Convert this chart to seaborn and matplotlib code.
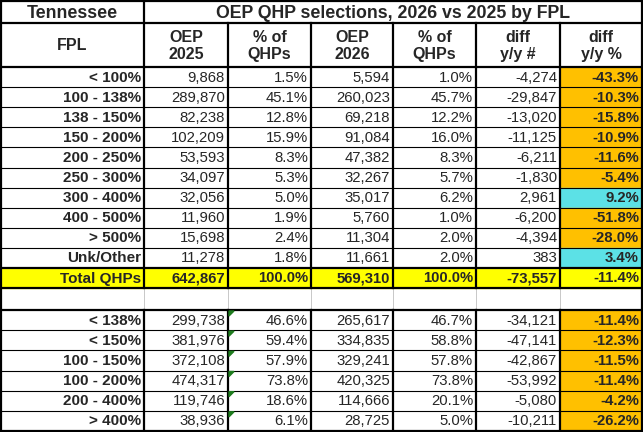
import matplotlib
matplotlib.use("Agg")
import matplotlib.pyplot as plt
import seaborn as sns
from matplotlib.patches import Rectangle, Polygon

sns.set_theme(style="white")
plt.rcParams['font.family'] = ['Liberation Sans', 'DejaVu Sans']

# ---------------- data ----------------
state = "Tennessee"
title = "OEP QHP selections, 2026 vs 2025 by FPL"
col_headers = ["FPL", "OEP\n2025", "% of\nQHPs", "OEP\n2026", "% of\nQHPs", "diff\ny/y #", "diff\ny/y %"]

fpl_top = ["< 100%", "100 - 138%", "138 - 150%", "150 - 200%", "200 - 250%",
           "250 - 300%", "300 - 400%", "400 - 500%", "> 500%", "Unk/Other"]
oep2025_top = [9868, 289870, 82238, 102209, 53593, 34097, 32056, 11960, 15698, 11278]
pct2025_top = [1.5, 45.1, 12.8, 15.9, 8.3, 5.3, 5.0, 1.9, 2.4, 1.8]
oep2026_top = [5594, 260023, 69218, 91084, 47382, 32267, 35017, 5760, 11304, 11661]
pct2026_top = [1.0, 45.7, 12.2, 16.0, 8.3, 5.7, 6.2, 1.0, 2.0, 2.0]
diff_top = [-4274, -29847, -13020, -11125, -6211, -1830, 2961, -6200, -4394, 383]
diffpct_top = [-43.3, -10.3, -15.8, -10.9, -11.6, -5.4, 9.2, -51.8, -28.0, 3.4]

total_label = "Total QHPs"
total_vals = [642867, 100.0, 569310, 100.0, -73557, -11.4]

fpl_bot = ["< 138%", "< 150%", "100 - 150%", "100 - 200%", "200 - 400%", "> 400%"]
oep2025_bot = [299738, 381976, 372108, 474317, 119746, 38936]
pct2025_bot = [46.6, 59.4, 57.9, 73.8, 18.6, 6.1]
oep2026_bot = [265617, 334835, 329241, 420325, 114666, 28725]
pct2026_bot = [46.7, 58.8, 57.8, 73.8, 20.1, 5.0]
diff_bot = [-34121, -47141, -42867, -53992, -5080, -10211]
diffpct_bot = [-11.4, -12.3, -11.5, -11.4, -4.2, -26.2]

ORANGE = "#FFC000"
CYAN = "#5CE1E6"
YELLOW = "#FFFF00"

# ---------------- layout ----------------
W, H = 643, 432
xs = [1, 144, 228, 311, 393, 476, 560, 642]
fig = plt.figure(figsize=(W / 100, H / 100), dpi=100)
ax = fig.add_axes([0, 0, 1, 1])
ax.set_xlim(0, W)
ax.set_ylim(H, 0)
ax.axis("off")

THICK = 1.6
THIN = 0.8
FS = 10.7


def fmt_int(v):
    return f"{v:,}"


def fmt_pct(v):
    return f"{v:.1f}%"


def hline(y, x0, x1, lw, color="black"):
    ax.plot([x0, x1], [y, y], color=color, lw=lw, solid_capstyle="projecting", zorder=3)


def vline(x, y0, y1, lw, color="black"):
    ax.plot([x, x], [y0, y1], color=color, lw=lw, solid_capstyle="projecting", zorder=3)


def draw_row(y0, y1, label, vals, bold_all=False, bg=None, last_bg=None):
    yc = (y0 + y1) / 2 + 0.5
    if bg:
        ax.add_patch(Rectangle((xs[0], y0), xs[-1] - xs[0], y1 - y0, color=bg, zorder=1))
    if last_bg:
        ax.add_patch(Rectangle((xs[6], y0), xs[7] - xs[6], y1 - y0, color=last_bg, zorder=1))
    ax.text(xs[1] - 3, yc, label, ha="right", va="center", fontsize=11,
            fontweight="bold", zorder=4)
    texts = [fmt_int(vals[0]), fmt_pct(vals[1]), fmt_int(vals[2]), fmt_pct(vals[3]),
             fmt_int(vals[4]), fmt_pct(vals[5])]
    for j, t in enumerate(texts):
        bold = bold_all or j == 5
        ax.text(xs[j + 2] - 3, yc, t, ha="right", va="center", fontsize=FS,
                fontweight="bold" if bold else "normal", zorder=4)


# header rows
h0, h1, h2 = 1, 23, 67
ax.text((xs[0] + xs[1]) / 2, (h0 + h1) / 2 + 1, state, ha="center", va="center",
        fontsize=12.8, fontweight="bold", zorder=4)
ax.text((xs[1] + xs[7]) / 2, (h0 + h1) / 2 + 1, title, ha="center", va="center",
        fontsize=12.8, fontweight="bold", zorder=4)
for j, hdr in enumerate(col_headers):
    ax.text((xs[j] + xs[j + 1]) / 2, (h1 + h2) / 2 + 1, hdr, ha="center", va="center",
            fontsize=11.5, fontweight="bold", linespacing=1.12, zorder=4)

# top data rows
top_start, top_end = 67, 268
n_top = len(fpl_top)
rh = (top_end - top_start) / n_top
for i in range(n_top):
    y0 = top_start + i * rh
    y1 = y0 + rh
    lb = ORANGE if diffpct_top[i] < 0 else CYAN
    draw_row(y0, y1, fpl_top[i],
             [oep2025_top[i], pct2025_top[i], oep2026_top[i], pct2026_top[i],
              diff_top[i], diffpct_top[i]], last_bg=lb)
    if i > 0:
        hline(y0, xs[0], xs[-1], THIN)

# total row
tot0, tot1 = 268, 288
draw_row(tot0, tot1, total_label, total_vals, bold_all=True, bg=YELLOW)

# blank row
bl0, bl1 = 288, 310
for x in xs[1:-1]:
    vline(x, bl0, bl1, 0.6, color="#BFBFBF")

# bottom rows
bot_start, bot_end = 310, 431
n_bot = len(fpl_bot)
rhb = (bot_end - bot_start) / n_bot
for i in range(n_bot):
    y0 = bot_start + i * rhb
    y1 = y0 + rhb
    lb = ORANGE if diffpct_bot[i] < 0 else CYAN
    draw_row(y0, y1, fpl_bot[i],
             [oep2025_bot[i], pct2025_bot[i], oep2026_bot[i], pct2026_bot[i],
              diff_bot[i], diffpct_bot[i]], last_bg=lb)
    if i > 0:
        hline(y0, xs[0], xs[-1], THIN)
    # small green error-indicator triangles
    ax.add_patch(Polygon([[xs[2] + 1, y0 + 1], [xs[2] + 6, y0 + 1], [xs[2] + 1, y0 + 6]],
                         closed=True, color="#1E7B1E", zorder=5))

# thick borders
for y in [h0, h1, h2, tot0, tot1, bot_start, bot_end]:
    hline(y, xs[0], xs[-1], THICK)
vline(xs[0], h0, bot_end, THICK)
vline(xs[-1], h0, bot_end, THICK)
vline(xs[1], h0, bl0, THICK)
vline(xs[1], bot_start, bot_end, THICK)
for x in xs[2:-1]:
    vline(x, h1, bl0, THICK)
    vline(x, bot_start, bot_end, THICK)

fig.savefig("out.png", dpi=100)
